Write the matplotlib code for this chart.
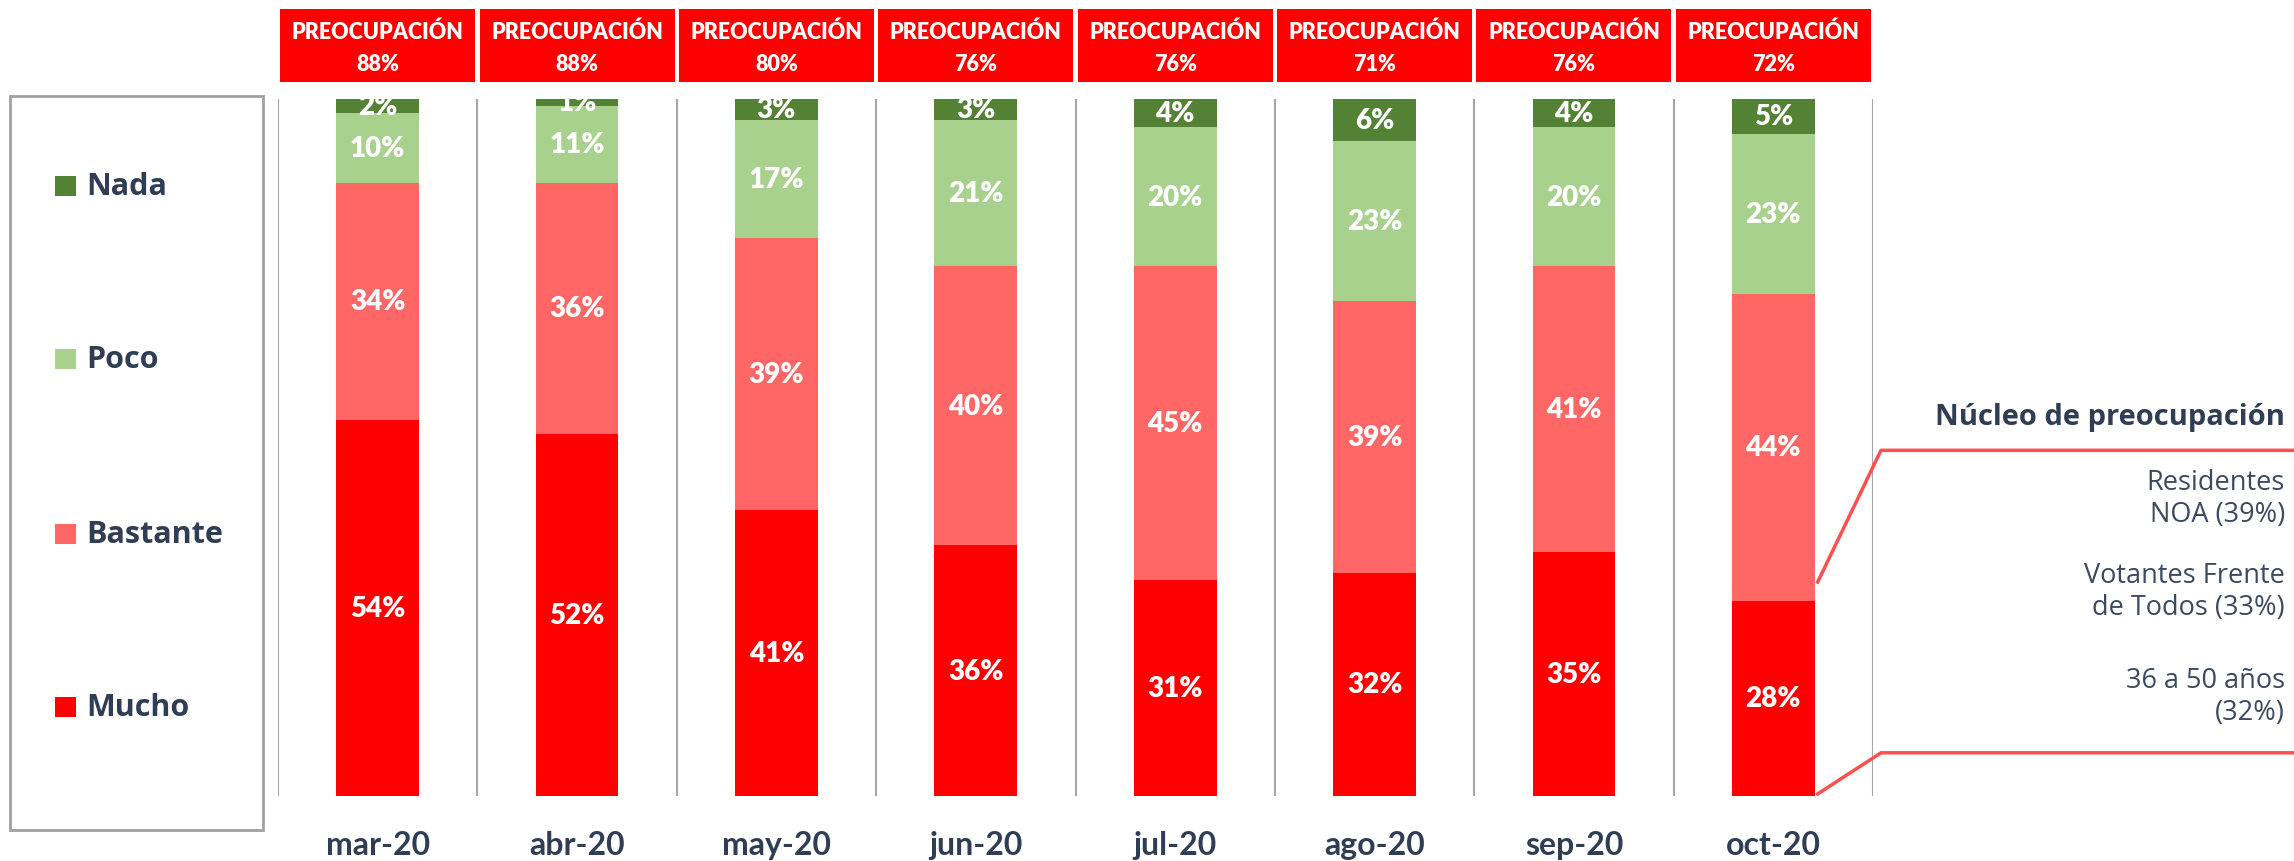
import numpy as np
import matplotlib.pyplot as plt
from matplotlib.patches import Rectangle
from matplotlib.lines import Line2D
import matplotlib.transforms as mtransforms

# data
months = ['mar-20', 'abr-20', 'may-20', 'jun-20', 'jul-20', 'ago-20', 'sep-20', 'oct-20']
mucho = [54, 52, 41, 36, 31, 32, 35, 28]
bastante = [34, 36, 39, 40, 45, 39, 41, 44]
poco = [10, 11, 17, 21, 20, 23, 20, 23]
nada = [2, 1, 3, 3, 4, 6, 4, 5]
preocupacion = [88, 88, 80, 76, 76, 71, 76, 72]

series_names = ['Mucho', 'Bastante', 'Poco', 'Nada']
series_colors = ['#FF0000', '#FF6666', '#A9D18E', '#548235']

nucleo_title = 'Núcleo de preocupación'
nucleo_items = ['Residentes\nNOA (39%)', 'Votantes Frente\nde Todos (33%)', '36 a 50 años\n(32%)']

# ================================================

W, H = 2294, 862
navy = '#2F3E55'
grey = '#A6A6A6'

def fx(px):
    return px / W

def fy(py):
    return 1 - py / H

fig = plt.figure(figsize=(W / 100, H / 100), dpi=100)

# main bar axes
ax = fig.add_axes([fx(278), fy(797), fx(1873) - fx(278), fy(100) - fy(797)])
ax.set_xlim(-0.5, len(months) - 0.5)
ax.set_ylim(0, 100)
ax.axis('off')

x = np.arange(len(months))
bw = 0.415
bottom = np.zeros(len(months))
for vals, name, col in zip([mucho, bastante, poco, nada], series_names, series_colors):
    vals = np.array(vals, dtype=float)
    ax.bar(x, vals, bw, bottom=bottom, color=col, edgecolor='none', label=name)
    for xi, b, v in zip(x, bottom, vals):
        ax.text(xi, b + v / 2, '%d%%' % v, ha='center', va='center', color='white',
                fontsize=20, fontweight='heavy', family='Lato', clip_on=True)
    bottom += vals

for b in np.arange(-0.5, len(months) + 0.5, 1):
    ax.axvline(b, color=grey, linewidth=1.5)

# month labels
trans = mtransforms.blended_transform_factory(ax.transData, ax.transAxes)
for xi, m in zip(x, months):
    ax.text(xi, -0.083, m, transform=trans, ha='center', va='baseline', color=navy,
            fontsize=23, fontweight='bold', family='Lato')

# header boxes
hx = fig.add_axes([fx(278), fy(83), fx(1873) - fx(278), fy(10) - fy(83)])
hx.set_xlim(-0.5, len(months) - 0.5)
hx.set_ylim(0, 1)
hx.axis('off')
hw = 0.978
for xi, p in zip(x, preocupacion):
    hx.add_patch(Rectangle((xi - hw / 2, 0), hw, 1, facecolor='#FF0000', edgecolor='none'))
    hx.text(xi, 0.70, 'PREOCUPACIÓN', ha='center', va='center', color='white',
            fontsize=15.5, fontweight='heavy', family='Lato')
    hx.text(xi, 0.26, '%d%%' % p, ha='center', va='center', color='white',
            fontsize=15.5, fontweight='heavy', family='Lato')

# legend box on the left
fig.patches.append(Rectangle((fx(10), fy(831)), fx(263) - fx(10), fy(97) - fy(831),
                             transform=fig.transFigure, facecolor='white',
                             edgecolor='#A0A0A0', linewidth=2))
leg_y = [708, 535, 360, 187]
for name, col, yy in zip(series_names, series_colors, leg_y):
    fig.patches.append(Rectangle((fx(55), fy(yy + 10)), fx(76) - fx(55), fy(yy - 10) - fy(yy + 10),
                                 transform=fig.transFigure, facecolor=col, edgecolor='none'))
    fig.text(fx(86), fy(yy), name, ha='left', va='center', color=navy,
             fontsize=22, fontweight='bold', family='Open Sans')

# right annotation
fig.text(fx(2285), fy(418), nucleo_title, ha='right', va='center', color=navy,
         fontsize=21, fontweight='bold', family='Open Sans')
for txt, yy in zip(nucleo_items, [499, 592, 697]):
    fig.text(fx(2285), fy(yy), txt, ha='right', va='center', color='#3B4A60',
             fontsize=19.5, fontweight='normal', family='Open Sans', linespacing=1.2)

xr = len(months) - 1 + bw / 2 + 0.015
xk = -0.5 + (1881 - 278) / 199.375
xe = -0.5 + (W - 278) / 199.375
top_seg = mucho[-1] + 2.7
ax.add_line(Line2D([xr, xk, xe], [top_seg, 49.6, 49.6], color='#FF5050', linewidth=2.5, clip_on=False))
ax.add_line(Line2D([xr, xk, xe], [0.3, 6.2, 6.2], color='#FF5050', linewidth=2.5, clip_on=False))

fig.savefig('out.png', dpi=100, facecolor='white')
